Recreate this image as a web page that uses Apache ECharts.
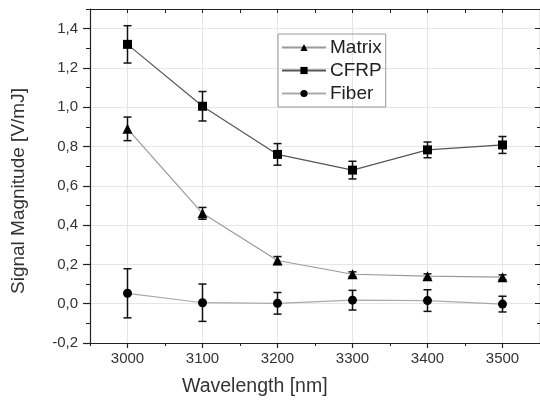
<!DOCTYPE html>
<html>
<head>
<meta charset="utf-8">
<script src="https://cdn.jsdelivr.net/npm/echarts@6/dist/echarts.min.js"></script>
<style>html,body{margin:0;padding:0;background:#fff;}#c{width:540px;height:404px;}</style>
</head>
<body>
<div id="c"></div>
<script>
var wavelengths = [3000, 3100, 3200, 3300, 3400, 3500];
var matrixVals = [0.89, 0.46, 0.22, 0.15, 0.14, 0.135];
var matrixErr  = [0.06, 0.03, 0.02, 0.012, 0.012, 0.012];
var cfrpVals   = [1.32, 1.005, 0.76, 0.68, 0.783, 0.808];
var cfrpErr    = [0.095, 0.075, 0.055, 0.045, 0.04, 0.043];
var fiberVals  = [0.053, 0.005, 0.002, 0.018, 0.016, -0.002];
var fiberErr   = [0.125, 0.095, 0.055, 0.05, 0.055, 0.04];
var xTicks = [3000, 3100, 3200, 3300, 3400, 3500];
var yTicks = [-0.2, 0, 0.2, 0.4, 0.6, 0.8, 1.0, 1.2, 1.4];

var FONT = 'Liberation Sans, Arial, sans-serif';

function pairs(xs, ys) { return xs.map(function (x, i) { return [x, ys[i]]; }); }
function errData(xs, ys, es) { return xs.map(function (x, i) { return [x, ys[i] - es[i], ys[i] + es[i]]; }); }

function errRender(params, api) {
  var lo = api.coord([api.value(0), api.value(1)]);
  var hi = api.coord([api.value(0), api.value(2)]);
  var w = 4;
  var st = { stroke: '#111', lineWidth: 1.5 };
  return {
    type: 'group',
    children: [
      { type: 'line', shape: { x1: lo[0], y1: lo[1], x2: hi[0], y2: hi[1] }, style: st },
      { type: 'line', shape: { x1: lo[0] - w, y1: lo[1], x2: lo[0] + w, y2: lo[1] }, style: st },
      { type: 'line', shape: { x1: hi[0] - w, y1: hi[1], x2: hi[0] + w, y2: hi[1] }, style: st }
    ]
  };
}

function fmtY(v) {
  return (Math.round(v * 10) / 10).toFixed(1).replace('.', ',');
}
function fmtX(v) { return String(Math.round(v)); }

var chart = echarts.init(document.getElementById('c'), null, { renderer: 'canvas' });
var axisLine = { show: true, onZero: false, lineStyle: { color: '#222', width: 1.2 } };
var option = {
  animation: false,
  backgroundColor: '#fff',
  textStyle: { fontFamily: FONT },
  grid: { left: 90, right: -2, top: 9, bottom: 61, containLabel: false },
  legend: {
    left: 278, top: 34, orient: 'vertical',
    itemWidth: 44, itemHeight: 9, itemGap: 4,
    padding: [4, 4, 4, 3],
    borderColor: '#999', borderWidth: 1,
    textStyle: { fontSize: 19, color: '#222', fontFamily: FONT, padding: [0, 0, 0, -1] },
    data: ['Matrix', 'CFRP', 'Fiber']
  },
  xAxis: [
    {
      type: 'value', min: 2950, max: 3550, position: 'bottom',
      axisLine: axisLine,
      axisTick: { show: true, customValues: xTicks, length: 5, lineStyle: { color: '#222', width: 1.2 } },
      axisLabel: { customValues: xTicks, fontSize: 15, color: '#333', margin: 8, fontFamily: FONT, formatter: fmtX },
      splitLine: { show: true, lineStyle: { color: '#e6e6e6', width: 1 } }
    },
    {
      type: 'value', min: 2950, max: 3550, interval: 50, position: 'bottom',
      axisLine: { show: false, onZero: false },
      axisTick: { show: true, length: 3, lineStyle: { color: '#222' } },
      axisLabel: { show: false }, splitLine: { show: false }
    },
    {
      type: 'value', min: 2950, max: 3550, interval: 50, position: 'top',
      axisLine: axisLine,
      axisTick: { show: true, inside: true, length: 4, lineStyle: { color: '#222' } },
      axisLabel: { show: false }, splitLine: { show: false }
    }
  ],
  yAxis: [
    {
      type: 'value', min: -0.2, max: 1.5, position: 'left',
      axisLine: axisLine,
      axisTick: { show: true, customValues: yTicks, length: 7, lineStyle: { color: '#222', width: 1.2 } },
      axisLabel: { customValues: yTicks, fontSize: 15, color: '#333', margin: 12, fontFamily: FONT, formatter: fmtY },
      splitLine: { show: true, lineStyle: { color: '#e6e6e6', width: 1 } }
    },
    {
      type: 'value', min: -0.2, max: 1.5, interval: 0.1, position: 'left',
      axisLine: { show: false, onZero: false },
      axisTick: { show: true, length: 4, lineStyle: { color: '#222' } },
      axisLabel: { show: false }, splitLine: { show: false }
    },
    {
      type: 'value', min: -0.2, max: 1.5, interval: 0.2, position: 'right',
      axisLine: axisLine,
      axisTick: { show: true, inside: true, length: 5, lineStyle: { color: '#222' } },
      minorTick: { show: true, splitNumber: 2, length: 3, lineStyle: { color: '#222' } },
      axisLabel: { show: false }, splitLine: { show: false }
    }
  ],
  graphic: [
    { type: 'text', left: 182, top: 377, style: { text: 'Wavelength [nm]', font: '19.5px ' + FONT, fill: '#333' } },
    { type: 'text', x: 9, y: 294, rotation: Math.PI / 2, style: { text: 'Signal Magnitude [V/mJ]', font: '19px ' + FONT, fill: '#333' } }
  ],
  series: [
    { type: 'custom', name: 'MatrixErr', renderItem: errRender, data: errData(wavelengths, matrixVals, matrixErr), z: 3, encode: { x: 0, y: [1, 2] } },
    { type: 'custom', name: 'CFRPErr', renderItem: errRender, data: errData(wavelengths, cfrpVals, cfrpErr), z: 3, encode: { x: 0, y: [1, 2] } },
    { type: 'custom', name: 'FiberErr', renderItem: errRender, data: errData(wavelengths, fiberVals, fiberErr), z: 3, encode: { x: 0, y: [1, 2] } },
    {
      type: 'line', name: 'Matrix', data: pairs(wavelengths, matrixVals),
      symbol: 'triangle', symbolSize: 10, showAllSymbol: true,
      itemStyle: { color: '#000' }, lineStyle: { color: '#9a9a9a', width: 1.2 }, z: 4
    },
    {
      type: 'line', name: 'CFRP', data: pairs(wavelengths, cfrpVals),
      symbol: 'rect', symbolSize: 9, showAllSymbol: true,
      itemStyle: { color: '#000' }, lineStyle: { color: '#555', width: 1.2 }, z: 4
    },
    {
      type: 'line', name: 'Fiber', data: pairs(wavelengths, fiberVals),
      symbol: 'circle', symbolSize: 9, showAllSymbol: true,
      itemStyle: { color: '#000' }, lineStyle: { color: '#aaa', width: 1.2 }, z: 4
    }
  ]
};
chart.setOption(option);
</script>
</body>
</html>
